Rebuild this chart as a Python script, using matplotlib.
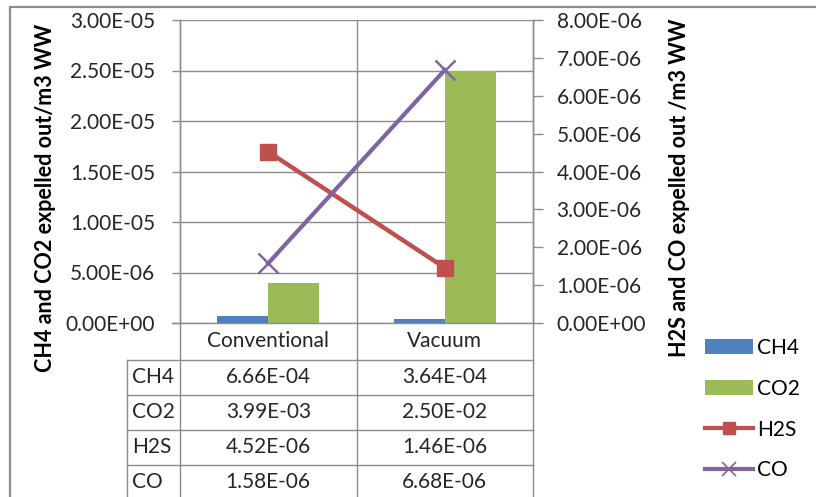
import matplotlib
matplotlib.use("Agg")
import matplotlib.pyplot as plt
import matplotlib.transforms as mtransforms
from matplotlib.lines import Line2D
from matplotlib.patches import Rectangle, Patch
import numpy as np

# ---------------- data ----------------
categories = ["Conventional", "Vacuum"]
ch4 = [6.66e-7, 3.64e-7]     # bars, left axis
co2 = [3.99e-6, 2.50e-5]     # bars, left axis
h2s = [4.52e-6, 1.46e-6]     # line, right axis
co = [1.58e-6, 6.68e-6]      # line, right axis

table_rows = ["CH4", "CO2", "H2S", "CO"]
table_values = {
    "CH4": ["6.66E-04", "3.64E-04"],
    "CO2": ["3.99E-03", "2.50E-02"],
    "H2S": ["4.52E-06", "1.46E-06"],
    "CO": ["1.58E-06", "6.68E-06"],
}
left_ticks = [0, 5e-6, 1e-5, 1.5e-5, 2e-5, 2.5e-5, 3e-5]
right_ticks = [0, 1e-6, 2e-6, 3e-6, 4e-6, 5e-6, 6e-6, 7e-6, 8e-6]

# ---------------- style ----------------
plt.rcParams['font.family'] = ['Lato', 'DejaVu Sans']
C_BLUE = '#4F81BD'
C_GREEN = '#9BBB59'
C_RED = '#C0504D'
C_PURPLE = '#8064A2'
C_GRID = '#8C8C8C'
C_TEXT = '#262626'
FS = 15
FS_LAB = 15.5

W, H = 816, 497
fig = plt.figure(figsize=(W / 100, H / 100), dpi=100)

def fx(px):
    return px / W

def fy(py):
    return 1 - py / H

ax_l, ax_r, ax_t, ax_b = 180, 533, 20, 323
ax = fig.add_axes([fx(ax_l), fy(ax_b), fx(ax_r) - fx(ax_l), fy(ax_t) - fy(ax_b)])
ax2 = ax.twinx()

x = np.arange(len(categories))
bw = 0.288
ax.bar(x - bw / 2, ch4, bw, color=C_BLUE, zorder=3, label='CH4')
ax.bar(x + bw / 2, co2, bw, color=C_GREEN, zorder=3, label='CO2')

ax.set_xlim(-0.5, len(categories) - 0.5)
ax.set_ylim(0, 3e-5)
ax.set_yticks(left_ticks)
ax.set_yticklabels(['{:.2E}'.format(v) for v in left_ticks], fontsize=FS, color=C_TEXT)
ax.yaxis.grid(True, color=C_GRID, lw=1.0, zorder=0)
ax.set_axisbelow(True)
ax.set_xticks([])
ax.tick_params(axis='y', length=6, width=1, color=C_GRID, pad=12)

ax2.plot(x, h2s, color=C_RED, lw=3.2, marker='s', ms=12, zorder=4, label='H2S')
ax2.plot(x, co, color=C_PURPLE, lw=3, marker='x', ms=14, mew=1.8, zorder=5, label='CO')
ax2.set_ylim(0, 8e-6)
ax2.set_yticks(right_ticks)
ax2.set_yticklabels(['{:.2E}'.format(v) for v in right_ticks], fontsize=FS, color=C_TEXT)
ax2.tick_params(axis='y', length=7, width=1, color=C_GRID, pad=10)

for a in (ax, ax2):
    for s in ('top', 'bottom'):
        a.spines[s].set_visible(False)
    for s in ('left', 'right'):
        a.spines[s].set_color(C_GRID)
        a.spines[s].set_linewidth(1.0)

ax.set_ylabel('CH4 and CO2 expelled out/m3 WW', fontsize=FS_LAB, fontweight='bold')
ax.yaxis.set_label_coords(fx(56), fy(198), transform=fig.transFigure)
ax2.set_ylabel('H2S and CO expelled out /m3 WW', fontsize=FS_LAB, fontweight='bold')
ax2.yaxis.set_label_coords(fx(669), fy(188), transform=fig.transFigure)

# ---------------- data table ----------------
blend = mtransforms.blended_transform_factory(ax.transData, fig.transFigure)

def hline(x0, x1, py):
    fig.add_artist(Line2D([fx(x0), fx(x1)], [fy(py), fy(py)], color=C_GRID, lw=1.0))

def vline(px, y0, y1):
    fig.add_artist(Line2D([fx(px), fx(px)], [fy(y0), fy(y1)], color=C_GRID, lw=1.0))

# axis baseline (with left tick)
hline(172, ax_r, ax_b)
# column lines extending through table
vline(ax_l, ax_b, H + 5)
vline(ax_r, ax_b, H + 5)
ax.axvline(0.5, color=C_GRID, lw=1.0, zorder=1)
fig.add_artist(Line2D([0.5, 0.5], [fy(ax_b), fy(H + 5)], color=C_GRID, lw=1.0,
                      transform=blend))
tab_left = 127
row_lines = [360, 395, 430, 465]
for py in row_lines:
    hline(tab_left, ax_r, py)
vline(tab_left, row_lines[0], H + 5)

for i, c in enumerate(categories):
    fig.text(x[i], fy(341), c, transform=blend, ha='center', va='center',
             fontsize=FS, color=C_TEXT)

row_centers = [377, 412, 447, 482]
for r, name in enumerate(table_rows):
    fig.text(fx(132), fy(row_centers[r]), name, ha='left', va='center',
             fontsize=FS, color=C_TEXT)
    for i in range(len(categories)):
        fig.text(x[i], fy(row_centers[r]), table_values[name][i], transform=blend,
                 ha='center', va='center', fontsize=FS, color=C_TEXT)

# ---------------- legend ----------------
handles = [
    Patch(facecolor=C_BLUE, edgecolor='none'),
    Patch(facecolor=C_GREEN, edgecolor='none'),
    Line2D([], [], color=C_RED, lw=3, marker='s', ms=9),
    Line2D([], [], color=C_PURPLE, lw=3, marker='x', ms=10, mew=1.2),
]
fig.legend(handles, ['CH4', 'CO2', 'H2S', 'CO'], loc='upper left',
           bbox_to_anchor=(fx(705), fy(338)), frameon=False, fontsize=FS,
           handlelength=2.3, handletextpad=0.2, labelspacing=1.0,
           borderaxespad=0, borderpad=0)

# chart frame
fig.add_artist(Rectangle((fx(10), fy(H + 20)), 1.2, fy(7) - fy(H + 20),
                         transform=fig.transFigure, fill=False,
                         edgecolor='#8C8C8C', lw=1.6))

fig.savefig('out.png', dpi=100)
